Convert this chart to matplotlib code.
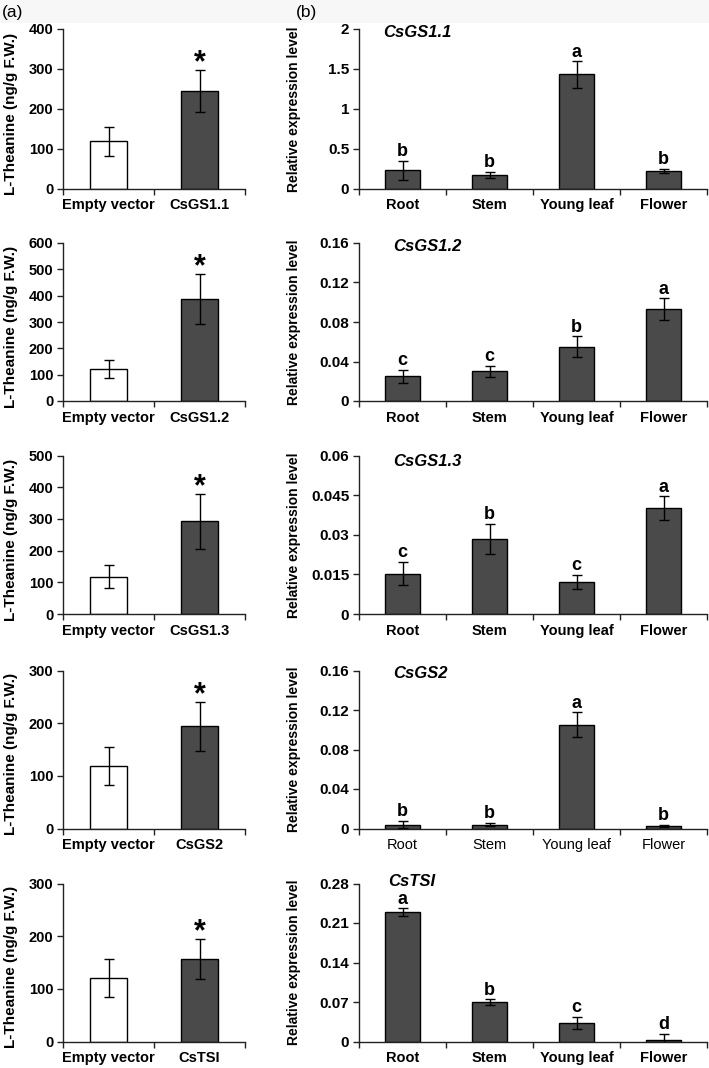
import matplotlib
matplotlib.use("Agg")
import matplotlib.pyplot as plt
from matplotlib.patches import Rectangle
from matplotlib.ticker import FuncFormatter
import numpy as np

plt.rcParams['font.family'] = ['Liberation Sans', 'DejaVu Sans']

# ---------------- data ----------------
left_genes = ["CsGS1.1", "CsGS1.2", "CsGS1.3", "CsGS2", "CsTSI"]
empty_mean = [118, 121, 118, 119, 121]
empty_err = [36, 35, 36, 36, 36]
gene_mean = [245, 388, 292, 194, 157]
gene_err = [52, 94, 87, 47, 38]
left_ymax = [400, 600, 500, 300, 300]
left_ystep = [100, 100, 100, 100, 100]

tissues = ["Root", "Stem", "Young leaf", "Flower"]
gs11_mean = [0.23, 0.17, 1.43, 0.22]
gs11_err = [0.12, 0.035, 0.165, 0.025]
gs11_letters = ["b", "b", "a", "b"]
gs12_mean = [0.025, 0.030, 0.055, 0.093]
gs12_err = [0.0065, 0.0055, 0.0105, 0.011]
gs12_letters = ["c", "c", "b", "a"]
gs13_mean = [0.0153, 0.0285, 0.012, 0.040]
gs13_err = [0.0044, 0.0057, 0.0027, 0.0045]
gs13_letters = ["c", "b", "c", "a"]
gs2_mean = [0.004, 0.004, 0.105, 0.0025]
gs2_err = [0.0035, 0.0015, 0.0127, 0.001]
gs2_letters = ["b", "b", "a", "b"]
tsi_mean = [0.229, 0.070, 0.033, 0.002]
tsi_err = [0.0067, 0.0045, 0.011, 0.011]
tsi_letters = ["a", "b", "c", "d"]

right_means = [gs11_mean, gs12_mean, gs13_mean, gs2_mean, tsi_mean]
right_errs = [gs11_err, gs12_err, gs13_err, gs2_err, tsi_err]
right_letters = [gs11_letters, gs12_letters, gs13_letters, gs2_letters, tsi_letters]
right_titles = ["CsGS1.1", "CsGS1.2", "CsGS1.3", "CsGS2", "CsTSI"]
right_ymax = [2, 0.16, 0.06, 0.16, 0.28]
right_ystep = [0.5, 0.04, 0.015, 0.04, 0.07]

# ---------------- layout ----------------
W, H = 709, 1068
fig = plt.figure(figsize=(W / 100, H / 100), dpi=100)
fig.patch.set_facecolor("white")
fig.patches.append(Rectangle((0, 1 - 23 / H), 1, 23 / H, transform=fig.transFigure,
                             facecolor="#f7f7f7", edgecolor="none", zorder=-1))
fig.text(2 / W, 1 - 13 / H, "(a)", fontsize=12.5, va="center", ha="left")
fig.text(296 / W, 1 - 13 / H, "(b)", fontsize=12.5, va="center", ha="left")

row_tops = [29, 243, 455.5, 670.5, 883.5]
row_bots = [188.5, 401, 614, 828.5, 1041.5]
LX0, LX1 = 63, 245
RX0, RX1 = 359, 707
title_pos = [(0.069, 0.975), (0.098, 0.98), (0.098, 0.965), (0.098, 0.98), (0.083, 1.012)]

DARK = "#4a4a4a"


def fmt(v, pos):
    return "%g" % round(v, 6)


def style_axes(ax, n, labels, ymax, ystep, fs, label_weight="bold"):
    for s in ["top", "right"]:
        ax.spines[s].set_visible(False)
    for s in ["left", "bottom"]:
        ax.spines[s].set_linewidth(1.0)
        ax.spines[s].set_color("#222222")
    ax.set_xlim(0, n)
    ax.set_ylim(0, ymax)
    ax.set_yticks(np.arange(0, ymax + ystep / 2, ystep))
    ax.yaxis.set_major_formatter(FuncFormatter(fmt))
    ax.set_xticks(np.arange(n + 1))
    ax.set_xticklabels([])
    ax.set_xticks(np.arange(n) + 0.5, labels, minor=True)
    ax.tick_params(axis="x", which="major", length=4, width=1, direction="out", color="#222222")
    ax.tick_params(axis="x", which="minor", length=0, pad=7, labelsize=10.5)
    ax.tick_params(axis="y", which="major", length=4, width=1, direction="out", color="#222222",
                   labelsize=fs, pad=3)
    for t in ax.get_yticklabels():
        t.set_fontweight("bold")
    for t in ax.get_xticklabels(minor=True):
        t.set_fontweight(label_weight)


for i in range(5):
    t, b = row_tops[i], row_bots[i]
    # left panel
    axl = fig.add_axes([LX0 / W, 1 - b / H, (LX1 - LX0) / W, (b - t) / H])
    cats = ["Empty vector", left_genes[i]]
    x = np.arange(2) + 0.5
    axl.bar(x, [empty_mean[i], gene_mean[i]], width=0.41,
            color=["white", DARK], edgecolor="black", linewidth=1.0, zorder=2)
    axl.errorbar(x, [empty_mean[i], gene_mean[i]], yerr=[empty_err[i], gene_err[i]],
                 fmt="none", ecolor="black", elinewidth=1.0, capsize=3.5, capthick=1.0, zorder=3)
    axl.annotate("*", (x[1], gene_mean[i] + gene_err[i]), xytext=(0, -6),
                 textcoords="offset points", ha="center", va="bottom",
                 fontsize=22, fontweight="bold")
    style_axes(axl, 2, cats, left_ymax[i], left_ystep[i], 10.5)
    axl.set_ylabel("L-Theanine (ng/g F.W.)", fontsize=11, fontweight="bold")
    axl.yaxis.set_label_coords(-0.247, 0.47)

    # right panel
    axr = fig.add_axes([RX0 / W, 1 - b / H, (RX1 - RX0) / W, (b - t) / H])
    xr = np.arange(4) + 0.5
    m, e = right_means[i], right_errs[i]
    axr.bar(xr, m, width=0.41, color=DARK, edgecolor="black", linewidth=1.0, zorder=2)
    axr.errorbar(xr, m, yerr=e, fmt="none", ecolor="black", elinewidth=1.0,
                 capsize=3.5, capthick=1.0, zorder=3)
    for xx, mm, ee, lab in zip(xr, m, e, right_letters[i]):
        axr.annotate(lab, (xx, mm + ee), xytext=(0, 0.5), textcoords="offset points",
                     ha="center", va="bottom", fontsize=13, fontweight="bold")
    style_axes(axr, 4, tissues, right_ymax[i], right_ystep[i], 11,
               label_weight=("normal" if i == 3 else "bold"))
    axr.set_ylabel("Relative expression level", fontsize=10, fontweight="bold")
    axr.yaxis.set_label_coords(-0.167, 0.5)
    tx, ty = title_pos[i]
    axr.text(tx, ty, right_titles[i], transform=axr.transAxes, fontsize=12,
             fontweight="bold", fontstyle="italic", ha="left", va="center")

fig.savefig("out.png", dpi=100, facecolor="white")
